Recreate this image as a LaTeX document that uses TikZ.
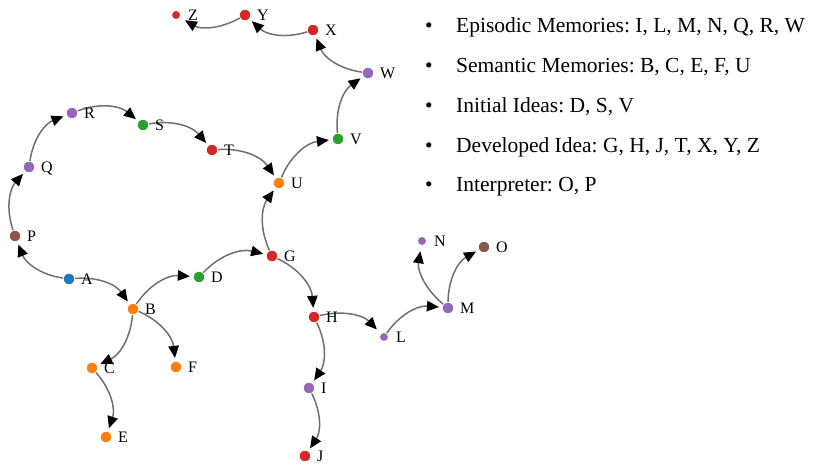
\documentclass[tikz,border=0pt]{standalone}
\usepackage{fontspec}
\setmainfont{Liberation Serif}
\usetikzlibrary{arrows.meta}
\definecolor{cblue}{HTML}{1F77B4}
\definecolor{corange}{HTML}{FF7F0E}
\definecolor{cgreen}{HTML}{2CA02C}
\definecolor{cred}{HTML}{D62728}
\definecolor{cpurple}{HTML}{9467BD}
\definecolor{cbrown}{HTML}{8C564B}
\definecolor{edgegray}{HTML}{707070}
\tikzset{
  dot/.style={circle, inner sep=0pt, minimum size=11.5pt, draw=white, line width=0.8pt},
  small/.style={minimum size=9pt},
  lbl/.style={anchor=base west, inner sep=0pt, font=\fontsize{16}{18}\selectfont},
  edge/.style={draw=edgegray, line width=1.5pt, shorten >=3pt,
    -{Triangle[length=12pt, width=10.5pt, color=black]}},
  tosmall/.style={shorten >=5.5pt},
  legend/.style={anchor=base west, inner sep=0pt, font=\fontsize{21.5}{25}\selectfont},
  bul/.style={anchor=base, inner sep=0pt, font=\fontsize{21.5}{25}\selectfont}
}
\begin{document}
\frenchspacing
\begin{tikzpicture}[x=1pt, y=-1pt]
\useasboundingbox (0,0) rectangle (815,465);
% nodes
\node[dot, fill=cblue] (A) at (69,279) {};
\node[dot, fill=corange] (B) at (133,309) {};
\node[dot, fill=corange] (C) at (92,368) {};
\node[dot, fill=cgreen] (D) at (199,277) {};
\node[dot, fill=corange] (E) at (106,437) {};
\node[dot, fill=corange] (F) at (176,367) {};
\node[dot, fill=cred] (G) at (272,256) {};
\node[dot, fill=cred] (H) at (314,317) {};
\node[dot, fill=cpurple] (I) at (309,388) {};
\node[dot, fill=cred] (J) at (305,456) {};
\node[dot, small, fill=cpurple] (L) at (384,337) {};
\node[dot, fill=cpurple] (M) at (448,308) {};
\node[dot, small, fill=cpurple] (N) at (422,241) {};
\node[dot, fill=cbrown] (O) at (484,247) {};
\node[dot, fill=cbrown] (P) at (15,236) {};
\node[dot, fill=cpurple] (Q) at (29,167) {};
\node[dot, fill=cpurple] (R) at (72,113) {};
\node[dot, fill=cgreen] (S) at (143,125) {};
\node[dot, fill=cred] (T) at (212,150) {};
\node[dot, fill=corange] (U) at (279,183) {};
\node[dot, fill=cgreen] (V) at (338,139) {};
\node[dot, fill=cpurple] (W) at (368,73) {};
\node[dot, fill=cred] (X) at (313,30) {};
\node[dot, fill=cred] (Y) at (245,15) {};
\node[dot, small, fill=cred] (Z) at (176,15) {};
% edges
\foreach \s/\t in {A/P, A/B, B/D, B/C, B/F, C/E, D/G, G/U, G/H, H/I, I/J,
  L/M, M/O, U/V, V/W, W/X, X/Y, P/Q, Q/R, R/S, S/T, T/U}
  \draw[edge] (\s) to[bend left=30] (\t);
\foreach \s/\t in {H/L, M/N, Y/Z}
  \draw[edge, tosmall] (\s) to[bend left=30] (\t);
% labels
\foreach \n/\x/\y in {A/69/279, B/133/309, C/92/368, D/199/277, E/106/437, F/176/367,
  G/272/256, H/314/317, I/309/388, J/305/456, L/384/337, M/448/308, N/422/241,
  O/484/247, P/15/236, Q/29/167, R/72/113, S/143/125, T/212/150, U/279/183,
  V/338/139, W/368/73, X/313/30, Y/245/15, Z/176/15}
  \node[lbl] (l\n) at (\x+12,\y+5.6) {\n};
% legend
\node[bul] (b1) at (429,33) {•};
\node[legend] (t1) at (456,33) {Episodic Memories: I, L, M, N, Q, R, W};
\node[bul] (b2) at (429,72.75) {•};
\node[legend] (t2) at (456,72.75) {Semantic Memories: B, C, E, F, U};
\node[bul] (b3) at (429,112.5) {•};
\node[legend] (t3) at (456,112.5) {Initial Ideas: D, S, V};
\node[bul] (b4) at (429,152.25) {•};
\node[legend] (t4) at (456,152.25) {Developed Idea: G, H, J, T, X, Y, Z};
\node[bul] (b5) at (429,192) {•};
\node[legend] (t5) at (456,192) {Interpreter: O, P};
\end{tikzpicture}
\end{document}
